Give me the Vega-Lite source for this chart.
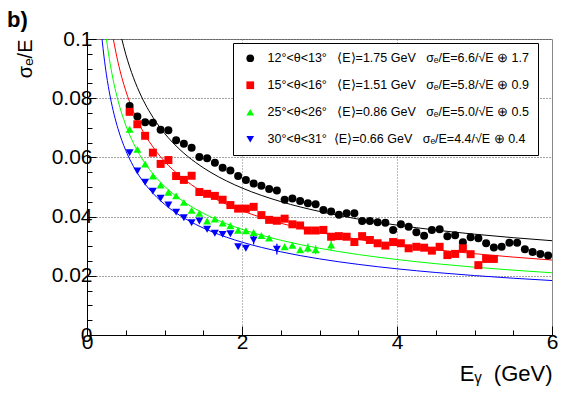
{
  "$schema": "https://vega.github.io/schema/vega-lite/v6.json",
  "width": 465,
  "height": 296,
  "autosize": {"type": "none"},
  "padding": {"left": 87, "top": 39, "right": 29, "bottom": 60},
  "background": "white",
  "title": {"text": "b)", "anchor": "start", "frame": "group", "dx": -80, "offset": -4, "fontSize": 22, "fontWeight": "bold", "font": "Liberation Sans", "color": "black"},
  "config": {"view": {"stroke": "#888888", "strokeWidth": 1}, "font": "Liberation Sans"},
  "datasets": {
    "fit": [
      {"s": "12°<θ<13°", "E": 0.449, "y": 0.1}, {"s": "12°<θ<13°", "E": 0.5, "y": 0.09487}, {"s": "12°<θ<13°", "E": 0.55, "y": 0.0906}, {"s": "12°<θ<13°", "E": 0.6, "y": 0.08689}, {"s": "12°<θ<13°", "E": 0.7, "y": 0.0807}, {"s": "12°<θ<13°", "E": 0.8, "y": 0.07572}, {"s": "12°<θ<13°", "E": 0.9, "y": 0.07162}, {"s": "12°<θ<13°", "E": 1.0, "y": 0.06815}, {"s": "12°<θ<13°", "E": 1.2, "y": 0.0626}, {"s": "12°<θ<13°", "E": 1.4, "y": 0.05831}, {"s": "12°<θ<13°", "E": 1.6, "y": 0.05488}, {"s": "12°<θ<13°", "E": 1.8, "y": 0.05205}, {"s": "12°<θ<13°", "E": 2.0, "y": 0.04967}, {"s": "12°<θ<13°", "E": 2.5, "y": 0.04507}, {"s": "12°<θ<13°", "E": 3.0, "y": 0.04173}, {"s": "12°<θ<13°", "E": 3.5, "y": 0.03916}, {"s": "12°<θ<13°", "E": 4.0, "y": 0.03712}, {"s": "12°<θ<13°", "E": 4.5, "y": 0.03545}, {"s": "12°<θ<13°", "E": 5.0, "y": 0.03406}, {"s": "12°<θ<13°", "E": 5.5, "y": 0.03288}, {"s": "12°<θ<13°", "E": 6.0, "y": 0.03186},
      {"s": "15°<θ<16°", "E": 0.339, "y": 0.1}, {"s": "15°<θ<16°", "E": 0.4, "y": 0.09215}, {"s": "15°<θ<16°", "E": 0.45, "y": 0.08693}, {"s": "15°<θ<16°", "E": 0.5, "y": 0.08252}, {"s": "15°<θ<16°", "E": 0.6, "y": 0.07542}, {"s": "15°<θ<16°", "E": 0.7, "y": 0.0699}, {"s": "15°<θ<16°", "E": 0.8, "y": 0.06547}, {"s": "15°<θ<16°", "E": 0.9, "y": 0.0618}, {"s": "15°<θ<16°", "E": 1.0, "y": 0.05869}, {"s": "15°<θ<16°", "E": 1.2, "y": 0.05371}, {"s": "15°<θ<16°", "E": 1.4, "y": 0.04984}, {"s": "15°<θ<16°", "E": 1.6, "y": 0.04673}, {"s": "15°<θ<16°", "E": 1.8, "y": 0.04416}, {"s": "15°<θ<16°", "E": 2.0, "y": 0.04199}, {"s": "15°<θ<16°", "E": 2.5, "y": 0.03777}, {"s": "15°<θ<16°", "E": 3.0, "y": 0.03467}, {"s": "15°<θ<16°", "E": 3.5, "y": 0.03228}, {"s": "15°<θ<16°", "E": 4.0, "y": 0.03036}, {"s": "15°<θ<16°", "E": 4.5, "y": 0.02879}, {"s": "15°<θ<16°", "E": 5.0, "y": 0.02746}, {"s": "15°<θ<16°", "E": 5.5, "y": 0.02632}, {"s": "15°<θ<16°", "E": 6.0, "y": 0.02533},
      {"s": "25°<θ<26°", "E": 0.2506, "y": 0.1}, {"s": "25°<θ<26°", "E": 0.3, "y": 0.09142}, {"s": "25°<θ<26°", "E": 0.35, "y": 0.08466}, {"s": "25°<θ<26°", "E": 0.4, "y": 0.07922}, {"s": "25°<θ<26°", "E": 0.5, "y": 0.07089}, {"s": "25°<θ<26°", "E": 0.6, "y": 0.06474}, {"s": "25°<θ<26°", "E": 0.7, "y": 0.05997}, {"s": "25°<θ<26°", "E": 0.8, "y": 0.05612}, {"s": "25°<θ<26°", "E": 0.9, "y": 0.05294}, {"s": "25°<θ<26°", "E": 1.0, "y": 0.05025}, {"s": "25°<θ<26°", "E": 1.2, "y": 0.04592}, {"s": "25°<θ<26°", "E": 1.4, "y": 0.04255}, {"s": "25°<θ<26°", "E": 1.6, "y": 0.03984}, {"s": "25°<θ<26°", "E": 1.8, "y": 0.0376}, {"s": "25°<θ<26°", "E": 2.0, "y": 0.03571}, {"s": "25°<θ<26°", "E": 2.5, "y": 0.03202}, {"s": "25°<θ<26°", "E": 3.0, "y": 0.0293}, {"s": "25°<θ<26°", "E": 3.5, "y": 0.02719}, {"s": "25°<θ<26°", "E": 4.0, "y": 0.0255}, {"s": "25°<θ<26°", "E": 4.5, "y": 0.02409}, {"s": "25°<θ<26°", "E": 5.0, "y": 0.02291}, {"s": "25°<θ<26°", "E": 5.5, "y": 0.0219}, {"s": "25°<θ<26°", "E": 6.0, "y": 0.02102},
      {"s": "30°<θ<31°", "E": 0.1939, "y": 0.1}, {"s": "30°<θ<31°", "E": 0.22, "y": 0.09389}, {"s": "30°<θ<31°", "E": 0.25, "y": 0.08809}, {"s": "30°<θ<31°", "E": 0.3, "y": 0.08043}, {"s": "30°<θ<31°", "E": 0.35, "y": 0.07448}, {"s": "30°<θ<31°", "E": 0.4, "y": 0.06969}, {"s": "30°<θ<31°", "E": 0.5, "y": 0.06235}, {"s": "30°<θ<31°", "E": 0.6, "y": 0.05694}, {"s": "30°<θ<31°", "E": 0.7, "y": 0.05274}, {"s": "30°<θ<31°", "E": 0.8, "y": 0.04936}, {"s": "30°<θ<31°", "E": 0.9, "y": 0.04655}, {"s": "30°<θ<31°", "E": 1.0, "y": 0.04418}, {"s": "30°<θ<31°", "E": 1.2, "y": 0.04036}, {"s": "30°<θ<31°", "E": 1.4, "y": 0.0374}, {"s": "30°<θ<31°", "E": 1.6, "y": 0.03501}, {"s": "30°<θ<31°", "E": 1.8, "y": 0.03304}, {"s": "30°<θ<31°", "E": 2.0, "y": 0.03137}, {"s": "30°<θ<31°", "E": 2.5, "y": 0.02811}, {"s": "30°<θ<31°", "E": 3.0, "y": 0.02572}, {"s": "30°<θ<31°", "E": 3.5, "y": 0.02386}, {"s": "30°<θ<31°", "E": 4.0, "y": 0.02236}, {"s": "30°<θ<31°", "E": 4.5, "y": 0.02112}, {"s": "30°<θ<31°", "E": 5.0, "y": 0.02008}, {"s": "30°<θ<31°", "E": 5.5, "y": 0.01918}, {"s": "30°<θ<31°", "E": 6.0, "y": 0.0184}
    ],
    "pts": [
      {"s": "12°<θ<13°", "E": 0.55, "y": 0.0774}, {"s": "12°<θ<13°", "E": 0.65, "y": 0.0738}, {"s": "12°<θ<13°", "E": 0.75, "y": 0.0719}, {"s": "12°<θ<13°", "E": 0.85, "y": 0.0717}, {"s": "12°<θ<13°", "E": 0.95, "y": 0.0693}, {"s": "12°<θ<13°", "E": 1.05, "y": 0.0692}, {"s": "12°<θ<13°", "E": 1.15, "y": 0.0658}, {"s": "12°<θ<13°", "E": 1.25, "y": 0.0646}, {"s": "12°<θ<13°", "E": 1.35, "y": 0.0633}, {"s": "12°<θ<13°", "E": 1.45, "y": 0.0601}, {"s": "12°<θ<13°", "E": 1.55, "y": 0.0597}, {"s": "12°<θ<13°", "E": 1.65, "y": 0.0582}, {"s": "12°<θ<13°", "E": 1.75, "y": 0.0565}, {"s": "12°<θ<13°", "E": 1.85, "y": 0.0556}, {"s": "12°<θ<13°", "E": 1.95, "y": 0.0537}, {"s": "12°<θ<13°", "E": 2.05, "y": 0.0524}, {"s": "12°<θ<13°", "E": 2.15, "y": 0.0512}, {"s": "12°<θ<13°", "E": 2.25, "y": 0.0504}, {"s": "12°<θ<13°", "E": 2.35, "y": 0.0493}, {"s": "12°<θ<13°", "E": 2.45, "y": 0.0488}, {"s": "12°<θ<13°", "E": 2.55, "y": 0.0457}, {"s": "12°<θ<13°", "E": 2.65, "y": 0.0461}, {"s": "12°<θ<13°", "E": 2.75, "y": 0.0453}, {"s": "12°<θ<13°", "E": 2.85, "y": 0.0445}, {"s": "12°<θ<13°", "E": 2.95, "y": 0.0442}, {"s": "12°<θ<13°", "E": 3.05, "y": 0.0422}, {"s": "12°<θ<13°", "E": 3.15, "y": 0.0417}, {"s": "12°<θ<13°", "E": 3.25, "y": 0.0406}, {"s": "12°<θ<13°", "E": 3.35, "y": 0.0411}, {"s": "12°<θ<13°", "E": 3.45, "y": 0.0411}, {"s": "12°<θ<13°", "E": 3.55, "y": 0.0385}, {"s": "12°<θ<13°", "E": 3.65, "y": 0.0385}, {"s": "12°<θ<13°", "E": 3.75, "y": 0.0381}, {"s": "12°<θ<13°", "E": 3.85, "y": 0.0379}, {"s": "12°<θ<13°", "E": 3.95, "y": 0.0355}, {"s": "12°<θ<13°", "E": 4.05, "y": 0.0374}, {"s": "12°<θ<13°", "E": 4.15, "y": 0.0366}, {"s": "12°<θ<13°", "E": 4.25, "y": 0.0347}, {"s": "12°<θ<13°", "E": 4.35, "y": 0.0335}, {"s": "12°<θ<13°", "E": 4.45, "y": 0.0355}, {"s": "12°<θ<13°", "E": 4.55, "y": 0.0357}, {"s": "12°<θ<13°", "E": 4.65, "y": 0.0334}, {"s": "12°<θ<13°", "E": 4.75, "y": 0.0337}, {"s": "12°<θ<13°", "E": 4.85, "y": 0.0313}, {"s": "12°<θ<13°", "E": 4.95, "y": 0.033}, {"s": "12°<θ<13°", "E": 5.05, "y": 0.0327}, {"s": "12°<θ<13°", "E": 5.15, "y": 0.031}, {"s": "12°<θ<13°", "E": 5.25, "y": 0.0296}, {"s": "12°<θ<13°", "E": 5.35, "y": 0.0298}, {"s": "12°<θ<13°", "E": 5.45, "y": 0.0312}, {"s": "12°<θ<13°", "E": 5.55, "y": 0.0312}, {"s": "12°<θ<13°", "E": 5.65, "y": 0.029}, {"s": "12°<θ<13°", "E": 5.75, "y": 0.028}, {"s": "12°<θ<13°", "E": 5.85, "y": 0.0274}, {"s": "12°<θ<13°", "E": 5.95, "y": 0.0269},
      {"s": "15°<θ<16°", "E": 0.55, "y": 0.0754}, {"s": "15°<θ<16°", "E": 0.65, "y": 0.0712}, {"s": "15°<θ<16°", "E": 0.75, "y": 0.0673}, {"s": "15°<θ<16°", "E": 0.85, "y": 0.0616}, {"s": "15°<θ<16°", "E": 0.95, "y": 0.0578}, {"s": "15°<θ<16°", "E": 1.05, "y": 0.0591}, {"s": "15°<θ<16°", "E": 1.15, "y": 0.0537}, {"s": "15°<θ<16°", "E": 1.25, "y": 0.0524}, {"s": "15°<θ<16°", "E": 1.35, "y": 0.0538}, {"s": "15°<θ<16°", "E": 1.45, "y": 0.0483}, {"s": "15°<θ<16°", "E": 1.55, "y": 0.0477}, {"s": "15°<θ<16°", "E": 1.65, "y": 0.047}, {"s": "15°<θ<16°", "E": 1.75, "y": 0.0457}, {"s": "15°<θ<16°", "E": 1.85, "y": 0.0439}, {"s": "15°<θ<16°", "E": 1.95, "y": 0.0427}, {"s": "15°<θ<16°", "E": 2.05, "y": 0.0427}, {"s": "15°<θ<16°", "E": 2.15, "y": 0.0433}, {"s": "15°<θ<16°", "E": 2.25, "y": 0.0405}, {"s": "15°<θ<16°", "E": 2.35, "y": 0.0389}, {"s": "15°<θ<16°", "E": 2.45, "y": 0.0386}, {"s": "15°<θ<16°", "E": 2.55, "y": 0.0393}, {"s": "15°<θ<16°", "E": 2.65, "y": 0.0374}, {"s": "15°<θ<16°", "E": 2.75, "y": 0.037}, {"s": "15°<θ<16°", "E": 2.85, "y": 0.0353}, {"s": "15°<θ<16°", "E": 2.95, "y": 0.0353}, {"s": "15°<θ<16°", "E": 3.05, "y": 0.0355}, {"s": "15°<θ<16°", "E": 3.15, "y": 0.0332}, {"s": "15°<θ<16°", "E": 3.25, "y": 0.0334}, {"s": "15°<θ<16°", "E": 3.35, "y": 0.0332}, {"s": "15°<θ<16°", "E": 3.45, "y": 0.0314}, {"s": "15°<θ<16°", "E": 3.55, "y": 0.0334}, {"s": "15°<θ<16°", "E": 3.65, "y": 0.0321}, {"s": "15°<θ<16°", "E": 3.75, "y": 0.031}, {"s": "15°<θ<16°", "E": 3.85, "y": 0.0302}, {"s": "15°<θ<16°", "E": 3.95, "y": 0.0314}, {"s": "15°<θ<16°", "E": 4.05, "y": 0.031}, {"s": "15°<θ<16°", "E": 4.15, "y": 0.0293}, {"s": "15°<θ<16°", "E": 4.25, "y": 0.0298}, {"s": "15°<θ<16°", "E": 4.35, "y": 0.0295}, {"s": "15°<θ<16°", "E": 4.45, "y": 0.0285}, {"s": "15°<θ<16°", "E": 4.55, "y": 0.0298}, {"s": "15°<θ<16°", "E": 4.65, "y": 0.027}, {"s": "15°<θ<16°", "E": 4.75, "y": 0.0274}, {"s": "15°<θ<16°", "E": 4.85, "y": 0.0293}, {"s": "15°<θ<16°", "E": 4.95, "y": 0.0273}, {"s": "15°<θ<16°", "E": 5.05, "y": 0.0236, "err": 0.0012}, {"s": "15°<θ<16°", "E": 5.15, "y": 0.0257, "err": 0.0012}, {"s": "15°<θ<16°", "E": 5.25, "y": 0.0257, "err": 0.0012},
      {"s": "25°<θ<26°", "E": 0.55, "y": 0.0695}, {"s": "25°<θ<26°", "E": 0.65, "y": 0.0627}, {"s": "25°<θ<26°", "E": 0.75, "y": 0.0578}, {"s": "25°<θ<26°", "E": 0.85, "y": 0.0537}, {"s": "25°<θ<26°", "E": 0.95, "y": 0.0507}, {"s": "25°<θ<26°", "E": 1.05, "y": 0.0482}, {"s": "25°<θ<26°", "E": 1.15, "y": 0.047}, {"s": "25°<θ<26°", "E": 1.25, "y": 0.0448}, {"s": "25°<θ<26°", "E": 1.35, "y": 0.0421}, {"s": "25°<θ<26°", "E": 1.45, "y": 0.0411}, {"s": "25°<θ<26°", "E": 1.55, "y": 0.0385}, {"s": "25°<θ<26°", "E": 1.65, "y": 0.0392}, {"s": "25°<θ<26°", "E": 1.75, "y": 0.0378}, {"s": "25°<θ<26°", "E": 1.85, "y": 0.0369}, {"s": "25°<θ<26°", "E": 1.95, "y": 0.0354}, {"s": "25°<θ<26°", "E": 2.05, "y": 0.0352}, {"s": "25°<θ<26°", "E": 2.15, "y": 0.0346}, {"s": "25°<θ<26°", "E": 2.25, "y": 0.0336}, {"s": "25°<θ<26°", "E": 2.35, "y": 0.0328}, {"s": "25°<θ<26°", "E": 2.55, "y": 0.0298}, {"s": "25°<θ<26°", "E": 2.65, "y": 0.0303}, {"s": "25°<θ<26°", "E": 2.75, "y": 0.0288}, {"s": "25°<θ<26°", "E": 2.85, "y": 0.0294, "err": 0.0015}, {"s": "25°<θ<26°", "E": 2.95, "y": 0.0288, "err": 0.0015}, {"s": "25°<θ<26°", "E": 3.15, "y": 0.0304, "err": 0.0018},
      {"s": "30°<θ<31°", "E": 0.55, "y": 0.0616}, {"s": "30°<θ<31°", "E": 0.65, "y": 0.0554}, {"s": "30°<θ<31°", "E": 0.75, "y": 0.0516}, {"s": "30°<θ<31°", "E": 0.85, "y": 0.0486}, {"s": "30°<θ<31°", "E": 0.95, "y": 0.0462}, {"s": "30°<θ<31°", "E": 1.05, "y": 0.0439}, {"s": "30°<θ<31°", "E": 1.15, "y": 0.0415}, {"s": "30°<θ<31°", "E": 1.25, "y": 0.0396}, {"s": "30°<θ<31°", "E": 1.35, "y": 0.0379}, {"s": "30°<θ<31°", "E": 1.45, "y": 0.0385}, {"s": "30°<θ<31°", "E": 1.55, "y": 0.0357}, {"s": "30°<θ<31°", "E": 1.65, "y": 0.0344}, {"s": "30°<θ<31°", "E": 1.75, "y": 0.034}, {"s": "30°<θ<31°", "E": 1.85, "y": 0.0342}, {"s": "30°<θ<31°", "E": 1.95, "y": 0.0298}, {"s": "30°<θ<31°", "E": 2.05, "y": 0.0293}, {"s": "30°<θ<31°", "E": 2.15, "y": 0.0321, "err": 0.0015}, {"s": "30°<θ<31°", "E": 2.45, "y": 0.029, "err": 0.0018}
    ]
  },
  "encoding": {
    "x": {
      "field": "E", "type": "quantitative",
      "scale": {"domain": [0, 6], "nice": false, "zero": false},
      "axis": {
        "values": [0, 0.5, 1, 1.5, 2, 2.5, 3, 3.5, 4, 4.5, 5, 5.5, 6],
        "labelExpr": "datum.value % 2 === 0 ? format(datum.value, 'd') : ''",
        "labelFlush": false, "labelOverlap": false,
        "labelFontSize": 21, "labelColor": "black", "labelFont": "Liberation Sans", "labelPadding": 5,
        "tickSize": {"condition": {"test": "datum.value % 2 === 0", "value": -9}, "value": -5},
        "tickColor": "black", "tickWidth": 1,
        "domainColor": "black", "domainWidth": 1,
        "grid": true,
        "gridOpacity": {"condition": {"test": "datum.value === 2 || datum.value === 4", "value": 1}, "value": 0},
        "gridDash": [1, 2], "gridColor": "#777777", "gridWidth": 1,
        "title": "Eᵧ\u00a0\u00a0(GeV)", "titleAnchor": "end", "titleFontSize": 22, "titleFontWeight": "normal", "titleColor": "black", "titleFont": "Liberation Sans", "titlePadding": 7
      }
    },
    "y": {
      "field": "y", "type": "quantitative",
      "scale": {"domain": [0, 0.1], "nice": false},
      "axis": {
        "values": [0, 0.005, 0.01, 0.015, 0.02, 0.025, 0.03, 0.035, 0.04, 0.045, 0.05, 0.055, 0.06, 0.065, 0.07, 0.075, 0.08, 0.085, 0.09, 0.095, 0.1],
        "labelExpr": "round(datum.value * 1000) % 20 === 0 ? format(datum.value, '~g') : ''",
        "labelFlush": false, "labelOverlap": false,
        "labelFontSize": 21, "labelColor": "black", "labelFont": "Liberation Sans", "labelPadding": 4,
        "tickSize": {"condition": {"test": "round(datum.value * 1000) % 20 === 0", "value": -9}, "value": -5},
        "tickColor": "black", "tickWidth": 1,
        "domainColor": "black", "domainWidth": 1,
        "grid": true,
        "gridOpacity": {"condition": {"test": "round(datum.value * 1000) % 20 === 0 && datum.value > 0", "value": 1}, "value": 0},
        "gridDash": [1, 2], "gridColor": "#444444", "gridWidth": 1,
        "title": "σₑ/E", "titleAnchor": "end", "titleFontSize": 20, "titleFontWeight": "normal", "titleColor": "black", "titleFont": "Liberation Sans", "titlePadding": 16
      }
    }
  },
  "layer": [
    {
      "data": {"name": "fit"},
      "mark": {"type": "line", "strokeWidth": 1, "interpolate": "monotone", "clip": true},
      "encoding": {
        "stroke": {"field": "s", "type": "nominal", "legend": null,
          "scale": {"domain": ["30°<θ<31°", "25°<θ<26°", "15°<θ<16°", "12°<θ<13°"], "range": ["#0000ff", "#00ff00", "#ff0000", "#000000"]}}
      }
    },
    {
      "data": {"name": "pts"},
      "transform": [{"filter": "datum.err > 0"}],
      "mark": {"type": "errorbar", "ticks": false, "thickness": 1.3},
      "encoding": {
        "yError": {"field": "err"},
        "stroke": {"field": "s", "type": "nominal", "legend": null,
          "scale": {"domain": ["30°<θ<31°", "25°<θ<26°", "15°<θ<16°", "12°<θ<13°"], "range": ["#0000ff", "#00ff00", "#ff0000", "#000000"]}}
      }
    },
    {
      "data": {"name": "pts"},
      "mark": {"type": "point", "filled": true, "size": 64, "opacity": 1, "strokeWidth": 0},
      "encoding": {
        "fill": {"field": "s", "type": "nominal",
          "scale": {"domain": ["12°<θ<13°", "15°<θ<16°", "25°<θ<26°", "30°<θ<31°"], "range": ["#000000", "#ff0000", "#00ff00", "#0000ff"]},
          "legend": {"orient": "none", "legendX": 146, "legendY": 4, "title": null, "fillColor": "white", "strokeColor": "black", "padding": 9, "labelFontSize": 12.5, "labelFont": "Liberation Sans", "labelColor": "black", "labelLimit": 600, "symbolSize": 60, "symbolStrokeWidth": 0, "rowPadding": 14, "symbolOffset": 2, "labelOffset": 11,
            "labelExpr": "datum.label === '12°<θ<13°' ? '12°<θ<13°\u00a0\u00a0\u00a0⟨E⟩=1.75 GeV\u00a0\u00a0\u00a0σₑ/E=6.6/√E ⊕ 1.7\u00a0\u00a0\u00a0\u00a0' : datum.label === '15°<θ<16°' ? '15°<θ<16°\u00a0\u00a0\u00a0⟨E⟩=1.51 GeV\u00a0\u00a0\u00a0σₑ/E=5.8/√E ⊕ 0.9\u00a0\u00a0\u00a0\u00a0' : datum.label === '25°<θ<26°' ? '25°<θ<26°\u00a0\u00a0\u00a0⟨E⟩=0.86 GeV\u00a0\u00a0\u00a0σₑ/E=5.0/√E ⊕ 0.5\u00a0\u00a0\u00a0\u00a0' : '30°<θ<31°\u00a0\u00a0⟨E⟩=0.66 GeV\u00a0\u00a0\u00a0σₑ/E=4.4/√E ⊕ 0.4\u00a0\u00a0\u00a0\u00a0'"}
        },
        "shape": {"field": "s", "type": "nominal",
          "scale": {"domain": ["12°<θ<13°", "15°<θ<16°", "25°<θ<26°", "30°<θ<31°"], "range": ["circle", "square", "triangle-up", "triangle-down"]},
          "legend": {"orient": "none", "legendX": 146, "legendY": 4, "title": null, "fillColor": "white", "strokeColor": "black", "padding": 9, "labelFontSize": 12.5, "labelFont": "Liberation Sans", "labelColor": "black", "labelLimit": 600, "symbolSize": 60, "symbolStrokeWidth": 0, "rowPadding": 14, "symbolOffset": 2, "labelOffset": 11,
            "labelExpr": "datum.label === '12°<θ<13°' ? '12°<θ<13°\u00a0\u00a0\u00a0⟨E⟩=1.75 GeV\u00a0\u00a0\u00a0σₑ/E=6.6/√E ⊕ 1.7\u00a0\u00a0\u00a0\u00a0' : datum.label === '15°<θ<16°' ? '15°<θ<16°\u00a0\u00a0\u00a0⟨E⟩=1.51 GeV\u00a0\u00a0\u00a0σₑ/E=5.8/√E ⊕ 0.9\u00a0\u00a0\u00a0\u00a0' : datum.label === '25°<θ<26°' ? '25°<θ<26°\u00a0\u00a0\u00a0⟨E⟩=0.86 GeV\u00a0\u00a0\u00a0σₑ/E=5.0/√E ⊕ 0.5\u00a0\u00a0\u00a0\u00a0' : '30°<θ<31°\u00a0\u00a0⟨E⟩=0.66 GeV\u00a0\u00a0\u00a0σₑ/E=4.4/√E ⊕ 0.4\u00a0\u00a0\u00a0\u00a0'"}
        }
      }
    }
  ]
}
